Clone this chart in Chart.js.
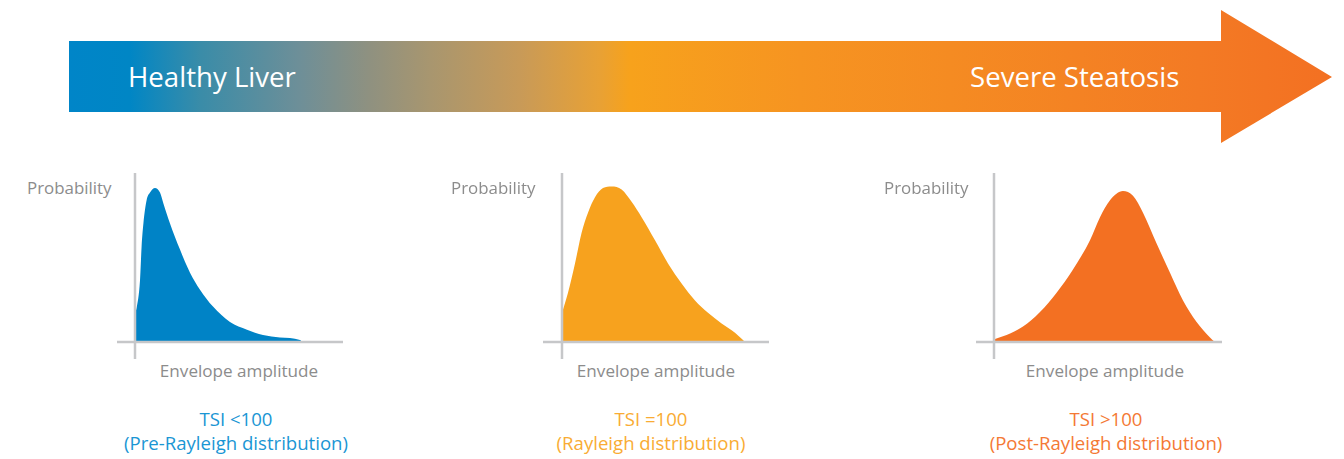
<!DOCTYPE html>
<html>
<head>
<meta charset="utf-8">
<script src="https://cdn.jsdelivr.net/npm/chart.js@4/dist/chart.umd.min.js"></script>
<style>
  html, body { margin:0; padding:0; background:#ffffff; width:1344px; height:459px; overflow:hidden; }
  body { position:relative; font-family:"Open Sans","Noto Sans",sans-serif; }
  .abs { position:absolute; white-space:nowrap; }
  #arrow {
    position:absolute; left:69px; top:10px; width:1263px; height:133px;
    clip-path: polygon(0 31px, 1152px 31px, 1152px 0, 1263px 67px, 1152px 133px, 1152px 102px, 0 102px);
    background: linear-gradient(to right,
      #0085C8 0%, #0086C5 4.8%, #3A8CA8 10.4%, #6E8F98 18.3%, #8F9180 23.8%,
      #A8966F 28.6%, #C89A58 35.7%, #E8A135 42%, #F7A21C 44.4%, #F69421 57.9%,
      #F58B22 69.8%, #F37A24 89.5%, #F37022 100%);
  }
  .head { color:#ffffff; font-size:27.6px; line-height:32px; top:60px; }
  .ylab { color:#8C8C8C; font-size:16.9px; line-height:20px; top:178px; }
  .xlab { color:#8C8C8C; font-size:17.1px; line-height:20px; top:361px; transform:translateX(-50%); }
  .tsi { font-size:18.6px; line-height:22px; transform:translateX(-50%); text-align:center; }
  canvas { position:absolute; }
</style>
</head>
<body>
<div id="arrow"></div>
<div class="abs head" style="left:128px;">Healthy Liver</div>
<div class="abs head" style="left:970px;">Severe Steatosis</div>

<canvas id="c1" width="226" height="186" style="left:117px; top:173px;"></canvas>
<canvas id="c2" width="226" height="186" style="left:543px; top:173px;"></canvas>
<canvas id="c3" width="246" height="186" style="left:976px; top:173px;"></canvas>

<div class="abs ylab" style="left:27px;">Probability</div>
<div class="abs ylab" style="left:451px;">Probability</div>
<div class="abs ylab" style="left:884px;">Probability</div>

<div class="abs xlab" style="left:239px;">Envelope amplitude</div>
<div class="abs xlab" style="left:656px;">Envelope amplitude</div>
<div class="abs xlab" style="left:1105px;">Envelope amplitude</div>

<div class="abs tsi" style="left:236px; top:408px; color:#1A96D4;">TSI &lt;100</div>
<div class="abs tsi" style="left:236px; top:432px; color:#1A96D4;">(Pre-Rayleigh distribution)</div>
<div class="abs tsi" style="left:651px; top:408px; color:#F9AC34;">TSI =100</div>
<div class="abs tsi" style="left:651px; top:432px; color:#F9AC34;">(Rayleigh distribution)</div>
<div class="abs tsi" style="left:1106px; top:408px; color:#F47935;">TSI &gt;100</div>
<div class="abs tsi" style="left:1106px; top:432px; color:#F47935;">(Post-Rayleigh distribution)</div>

<script>
// Pre-Rayleigh (TSI < 100)
const amp1  = [0, 0.08, 0.25, 0.33, 0.42, 0.58, 0.75, 1.0, 1.25, 1.42, 1.75, 2.25, 2.75, 3.25, 3.9, 4.75, 5.6, 6.4, 7.25, 8.25, 8.35];
const prob1 = [0.19, 0.22, 0.40, 0.62, 0.77, 0.92, 0.97, 1.0, 0.97, 0.90, 0.77, 0.60, 0.45, 0.34, 0.23, 0.13, 0.08, 0.045, 0.03, 0.013, 0];
// Rayleigh (TSI = 100)
const amp2  = [0, 0.3, 0.65, 0.98, 1.3, 1.65, 2.05, 2.48, 2.98, 3.48, 3.98, 4.65, 5.3, 5.98, 6.65, 7.3, 7.98, 8.65, 9.15];
const prob2 = [0.19, 0.32, 0.51, 0.71, 0.84, 0.94, 1.0, 1.01, 0.99, 0.91, 0.81, 0.66, 0.51, 0.38, 0.27, 0.19, 0.12, 0.06, 0];
// Post-Rayleigh (TSI > 100)
const amp3  = [0.05, 0.63, 1.45, 2.3, 3.13, 3.95, 4.8, 5.3, 5.8, 6.45, 6.95, 7.45, 8.13, 8.8, 9.45, 10.13, 10.8, 11.05];
const prob3 = [0.02, 0.045, 0.10, 0.195, 0.32, 0.47, 0.66, 0.81, 0.92, 0.98, 0.95, 0.84, 0.64, 0.45, 0.27, 0.13, 0.03, 0];

const axisPlugin = {
  id: 'crossAxes',
  afterDatasetsDraw(chart) {
    const { ctx, chartArea, scales } = chart;
    const x0 = scales.x.getPixelForValue(0);
    const y0 = scales.y.getPixelForValue(0);
    ctx.save();
    ctx.strokeStyle = '#C6C7C9';
    ctx.lineWidth = 2.5;
    ctx.beginPath();
    ctx.moveTo(x0, chartArea.top);
    ctx.lineTo(x0, chartArea.bottom);
    ctx.moveTo(chartArea.left, y0);
    ctx.lineTo(chartArea.right, y0);
    ctx.stroke();
    ctx.restore();
  }
};

function makeChart(id, xs, ys, color, xMin, xMax) {
  new Chart(document.getElementById(id), {
    type: 'line',
    data: {
      datasets: [{
        data: xs.map((x, i) => ({ x: x, y: ys[i] })),
        backgroundColor: color,
        borderColor: color,
        borderWidth: 0,
        fill: 'origin',
        pointRadius: 0,
        cubicInterpolationMode: 'monotone'
      }]
    },
    options: {
      responsive: false,
      animation: false,
      layout: { padding: 0 },
      plugins: { legend: { display: false }, tooltip: { enabled: false } },
      scales: {
        x: { type: 'linear', display: false, min: xMin, max: xMax },
        y: { type: 'linear', display: false, min: -0.1104, max: 1.0974 }
      }
    },
    plugins: [axisPlugin]
  });
}

makeChart('c1', amp1, prob1, '#0083C6', -0.9, 10.4);
makeChart('c2', amp2, prob2, '#F7A21E', -0.95, 10.35);
makeChart('c3', amp3, prob3, '#F37022', -0.9, 11.4);
</script>
</body>
</html>
